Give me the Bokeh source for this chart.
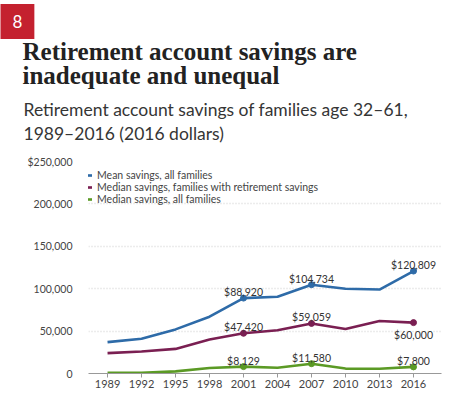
from bokeh.plotting import figure
from bokeh.models import Label, Legend, LegendItem, FixedTicker, Range1d, Title
from bokeh.embed import file_html
from bokeh.resources import INLINE

years = [1989, 1992, 1995, 1998, 2001, 2004, 2007, 2010, 2013, 2016]
mean_all = [37000, 41000, 52000, 67000, 88920, 90500, 104734, 100000, 99000, 120809]
median_with = [24000, 26000, 29000, 40000, 47420, 51000, 59059, 52500, 62000, 60000]
median_all = [800, 800, 2500, 6500, 8129, 6700, 11580, 5800, 5600, 7800]
series_names = ["Mean savings, all families",
                "Median savings, families with retirement savings",
                "Median savings, all families"]
colors = ["#2e6ba8", "#7a1f52", "#5b9a25"]
label_years = [2001, 2007, 2016]
y_ticks = [0, 50000, 100000, 150000, 200000, 250000]
y_tick_labels = ["0", "50,000", "100,000", "150,000", "200,000", "$250,000"]
title_text = "Retirement account savings are\ninadequate and unequal"
subtitle_text = "Retirement account savings of families age 32\u201361,\n1989\u20132016 (2016 dollars)"
badge_text = "8"

FONT = "Lato"
W, H = 467, 398
LEFT = 88

p = figure(width=W, height=H, output_backend="svg", toolbar_location=None,
           x_range=Range1d(1987.32, 2018.47), y_range=Range1d(0, 250000),
           min_border_left=LEFT, min_border_right=26, min_border_top=0,
           min_border_bottom=25)
p.outline_line_color = None
p.background_fill_color = "white"

# header titles (added from the frame outward)
p.add_layout(Title(text=subtitle_text, align="left", offset=23 - LEFT,
                   text_font=FONT, text_font_size="17.5px",
                   text_font_style="normal", text_color="#353535",
                   text_line_height=1.15, standoff=34), "above")
p.add_layout(Title(text=title_text, align="left", offset=22 - LEFT,
                   text_font="Liberation Serif", text_font_size="25px",
                   text_font_style="bold", text_color="#222222",
                   text_line_height=0.92, standoff=-18), "above")
p.add_layout(Title(text=badge_text, align="left", offset=0 - LEFT,
                   text_font=FONT, text_font_size="17px", text_font_style="normal",
                   text_color="white", background_fill_color="#c4212f",
                   vertical_align="top", padding=(12, 11), standoff=7), "above")

# axes
p.yaxis.ticker = FixedTicker(ticks=y_ticks)
p.yaxis.major_label_overrides = {t: l for t, l in zip(y_ticks, y_tick_labels)}
p.yaxis.axis_line_color = None
p.yaxis.major_tick_line_color = None
p.yaxis.minor_tick_line_color = None
p.yaxis.major_label_text_font = FONT
p.yaxis.major_label_text_font_size = "10.5px"
p.yaxis.major_label_text_color = "#444444"
p.yaxis.major_label_standoff = 10

p.xaxis.ticker = FixedTicker(ticks=years)
p.xaxis.axis_line_color = "#999999"
p.xaxis.major_tick_line_color = "#999999"
p.xaxis.major_tick_out = 4
p.xaxis.major_tick_in = 0
p.xaxis.minor_tick_line_color = None
p.xaxis.major_label_text_font = FONT
p.xaxis.major_label_text_font_size = "11px"
p.xaxis.major_label_text_color = "#444444"
p.xaxis.major_label_standoff = 2

p.xgrid.grid_line_color = None
p.ygrid.grid_line_color = "#d9d9d9"
p.ygrid.grid_line_dash = "1 2"
p.ygrid.grid_line_width = 1.5

items = []
all_series = [mean_all, median_with, median_all]
for vals, col, name in zip(all_series, colors, series_names):
    r = p.line(years, vals, line_color=col, line_width=2.6)
    items.append(LegendItem(label=name, renderers=[r]))
    lx = [y for y in years if y in label_years]
    ly = [v for y, v in zip(years, vals) if y in label_years]
    p.scatter(lx, ly, size=6, color=col)

for vals, above_flags in [(mean_all, [True, True, True]),
                          (median_with, [True, True, False]),
                          (median_all, [True, True, True])]:
    for yr, up in zip(label_years, above_flags):
        v = vals[years.index(yr)]
        p.add_layout(Label(x=yr, y=v, text="${:,}".format(v), text_align="center",
                           text_baseline="alphabetic" if up else "top",
                           y_offset=6 if up else -6, text_font=FONT,
                           text_font_size="10.5px", text_color="#333333"))

legend = Legend(items=items, location=(-6, 168), orientation="vertical",
                label_text_font=FONT, label_text_font_size="10.5px",
                label_text_color="#444444", glyph_width=10, glyph_height=12,
                label_height=12, label_standoff=5, spacing=0, padding=0,
                margin=0, border_line_color=None, background_fill_alpha=0)
p.add_layout(legend, "center")

open("out.html", "w").write(file_html(p, INLINE))
